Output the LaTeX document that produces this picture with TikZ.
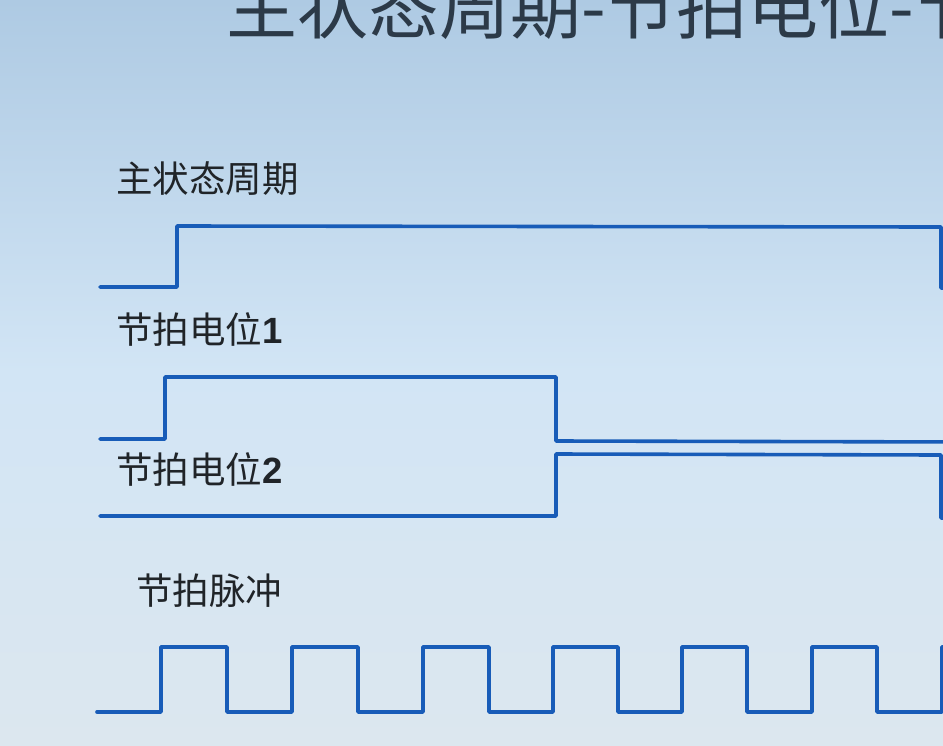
\documentclass[tikz,border=0pt]{standalone}
\usepackage{fontspec}
\newfontfamily\cjk{Noto Sans CJK SC}
\newfontfamily\digitfont{Liberation Sans}
\definecolor{bgtop}{RGB}{174,202,227}
\definecolor{bgmid}{RGB}{210,229,245}
\definecolor{bgbot}{RGB}{220,231,239}
\definecolor{wavecol}{RGB}{24,92,184}
\definecolor{txtcol}{RGB}{32,36,40}
\definecolor{titlecol}{RGB}{44,58,72}
\tikzset{
  wave/.style={draw=wavecol, line width=3.6pt, line join=round, line cap=round},
  sig/.style={anchor=base west, inner sep=0pt, text=txtcol, font=\cjk\fontsize{36.5}{36.5}\selectfont},
}
\begin{document}
\begin{tikzpicture}[x=1pt,y=-1pt]
\useasboundingbox (0,0) rectangle (943,745);
\shade[top color=bgtop, bottom color=bgbot, middle color=bgmid] (0,0) rectangle (943,745);

% title (cut off by the page edges, as in the reference)
\node[anchor=base west, inner sep=0pt, text=titlecol, font=\cjk\fontsize{71}{71}\selectfont] (title) at (226,33) {主状态周期-节拍电位-节拍脉冲};

% labels
\node[sig] (l1) at (116,192) {主状态周期};
\node[sig] (l2) at (116,343) {节拍电位{\digitfont\bfseries 1}};
\node[sig] (l3) at (116,483) {节拍电位{\digitfont\bfseries 2}};
\node[sig] (l4) at (136,604) {节拍脉冲};

% main state cycle
\draw[wave] (100,287) -- (177,287) -- (177,226) -- (941,227) -- (941,288) -- (970,288);
% beat potential 1
\draw[wave] (100,439) -- (165,439) -- (165,377) -- (556,377) -- (556,441) -- (970,442);
% beat potential 2
\draw[wave] (100,516) -- (556,516) -- (556,454) -- (941,455) -- (941,518) -- (970,518);
% beat pulses
\draw[wave] (97,712) -- (161,712) -- (161,647) -- (227,647) -- (227,712)
  -- (292,712) -- (292,647) -- (358,647) -- (358,712)
  -- (423,712) -- (423,647) -- (489,647) -- (489,712)
  -- (553,712) -- (553,647) -- (618,647) -- (618,712)
  -- (682,712) -- (682,647) -- (747,647) -- (747,712)
  -- (812,712) -- (812,647) -- (877,647) -- (877,712)
  -- (942,712) -- (942,647) -- (970,647);
\end{tikzpicture}
\end{document}
